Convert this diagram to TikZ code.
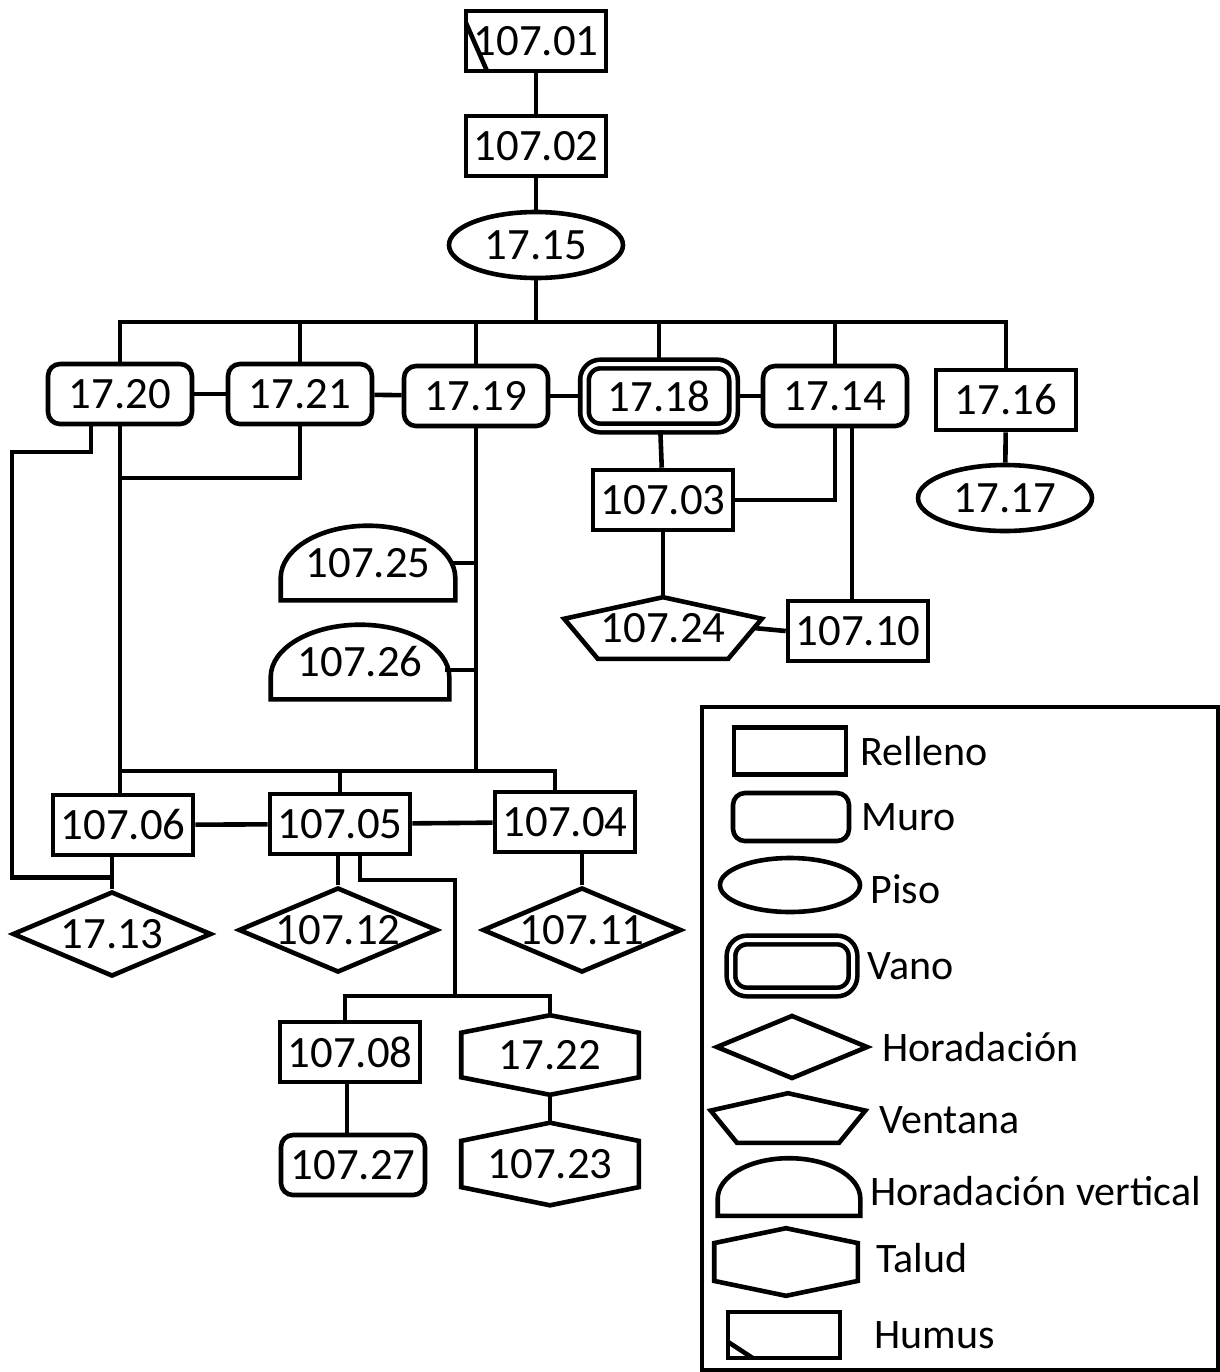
\documentclass[tikz,border=0pt]{standalone}
\usepackage{fontspec}
\setmainfont{Carlito}
\usetikzlibrary{positioning,calc,shapes.geometric}

\tikzset{
  outline/.style={line width=2.3pt, line join=miter},
  base/.style={inner sep=0pt, font=\fontsize{22.4}{24}\selectfont},
  relleno/.style={base, draw, minimum width=70pt, minimum height=30pt},
  muro/.style={base, draw, rounded corners=6pt, minimum width=72pt, minimum height=30pt},
  piso/.style={base, draw, ellipse, minimum width=87pt, minimum height=33pt},
  vano/.style={base, draw, double, double distance=2pt, rounded corners=8pt, minimum width=74.5pt, minimum height=32pt},
  horad/.style={base, draw, diamond, aspect=2.34, minimum width=99.5pt, minimum height=42.5pt},
  % shapes without a ready-made pgf shape: drawn on the node's box
  ventana/.style={base, minimum width=96.5pt, minimum height=28.5pt,
    append after command={\pgfextra{\edef\shnode{\tikzlastnode}
      \draw[outline] (\shnode.north)
        -- ($(\shnode.north east)!.35!(\shnode.south east)$)
        -- ($(\shnode.south east)!.17!(\shnode.south west)$)
        -- ($(\shnode.south west)!.17!(\shnode.south east)$)
        -- ($(\shnode.north west)!.35!(\shnode.south west)$) -- cycle;}}},
  hvert/.style={base, minimum width=85pt, minimum height=35pt,
    append after command={\pgfextra{\edef\shnode{\tikzlastnode}
      \draw[outline] (\shnode.south west)
        -- ($(\shnode.south west)!.3!(\shnode.north west)$)
        .. controls ($(\shnode.south west)!.686!(\shnode.north west)$)
           and ($(\shnode.north west)!.224!(\shnode.north east)$) .. (\shnode.north)
        .. controls ($(\shnode.north west)!.776!(\shnode.north east)$)
           and ($(\shnode.south east)!.686!(\shnode.north east)$)
        .. ($(\shnode.south east)!.3!(\shnode.north east)$)
        -- (\shnode.south east) -- cycle;}}},
  talud/.style={base, minimum width=86.5pt, minimum height=37.5pt,
    append after command={\pgfextra{\edef\shnode{\tikzlastnode}
      \draw[outline] (\shnode.north)
        -- ($(\shnode.north east)!.22!(\shnode.south east)$)
        -- ($(\shnode.north east)!.78!(\shnode.south east)$)
        -- (\shnode.south)
        -- ($(\shnode.south west)!.22!(\shnode.north west)$)
        -- ($(\shnode.south west)!.78!(\shnode.north west)$) -- cycle;}}},
  humus/.style 2 args={relleno,
    path picture={\draw[outline]
      ($(path picture bounding box.south west)!#1!(path picture bounding box.north west)$)
      -- ($(path picture bounding box.south west)!#2!(path picture bounding box.south east)$);}},
  lbl/.style={anchor=west, inner sep=0pt, font=\fontsize{21}{24}\selectfont}
}

\begin{document}
\begin{tikzpicture}[x=0.5pt, y=-0.5pt, line width=2.3pt]
  \fill[white] (0,0) rectangle (1220,1372);

  % top column
  \node[humus={.8}{.15}] (n10701) at (536,41) {107.01};
  \node[relleno] (n10702) at (536,146) {107.02};
  \node[piso] (n1715) at (536,245) {17.15};

  % row of walls
  \node[muro] (n1720) at (120,394) {17.20};
  \node[muro] (n1721) at (300,394) {17.21};
  \node[muro] (n1719) at (476,396) {17.19};
  \node[vano] (n1718) at (659,396) {17.18};
  \node[muro] (n1714) at (835,396) {17.14};
  \node[relleno] (n1716) at (1006,400) {17.16};
  \node[piso] (n1717) at (1005,498) {17.17};

  % right branch
  \node[relleno] (n10703) at (663,500) {107.03};
  \node[ventana] (n10724) at (663,628) {107.24};
  \node[relleno] (n10710) at (858,631) {107.10};

  % vertical borings
  \node[hvert] (n10725) at (368,563) {107.25};
  \node[hvert, minimum width=87pt] (n10726) at (360,662) {107.26};

  % lower rows
  \node[relleno] (n10706) at (123,825) {107.06};
  \node[relleno] (n10705) at (340,824) {107.05};
  \node[relleno] (n10704) at (565,822) {107.04};
  \node[horad] (n1713) at (112,934) {17.13};
  \node[horad] (n10712) at (338,930) {107.12};
  \node[horad] (n10711) at (582,930) {107.11};
  \node[relleno] (n10708) at (350,1052) {107.08};
  \node[talud] (n1722) at (550,1055) {17.22};
  \node[muro] (n10727) at (353,1165) {107.27};
  \node[talud, minimum height=39pt] (n10723) at (550,1164) {107.23};

  \coordinate (bus) at (536,322);
  \coordinate (lft) at (12,452);
  \coordinate (m1) at (120,478);
  \coordinate (j2) at (478,771);
  \coordinate (k3) at (455,880);
  \coordinate (j3) at (455,996);

  \draw (n10701) -- (n10702);
  \draw (n10702) -- (n1715);
  \draw (n1715) -- (bus);
  \draw (n1720.north) |- (bus) -| (n1716.north);
  \foreach \n in {n1721,n1719,n1718,n1714}
    \draw (\n.north) -- (\n.north |- bus);
  \draw (n1720) -- (n1721);
  \draw (n1721) -- (n1719);
  \draw (n1719) -- (n1718);
  \draw (n1718) -- (n1714);
  \draw (n1716) -- (n1717);

  \draw (n1718) -- (n10703);
  \draw (n1714.south) |- (n10703.east);
  \draw ([xshift=-3pt]n10710.north) -- ([xshift=-3pt]n10710.north |- n1714.south);
  \draw (n10703) -- (n10724);
  \draw ([xshift=-4pt]n10724.east) -- (n10710.west);

  \draw ([xshift=-14.5pt]n1720.south) |- (lft) |- ([yshift=6pt]n1713.north);
  \draw (n1720.south) -- (n1720.south |- n10706.north);
  \draw (n1721.south) |- (m1);
  \draw (n1719.south) -- (n1719.south |- j2);
  \draw ([xshift=-2pt]n10725.east) -- (n10725.east -| n1719.south);
  \draw ([xshift=-2pt, yshift=-4pt]n10726.east) -- ([yshift=-4pt]n10726.east -| n1719.south);
  \draw (n1720.south |- j2) -| ([xshift=-5pt]n10704.north);
  \draw (n10705.north) -- (n10705.north |- j2);

  \draw (n10706) -- (n10705);
  \draw (n10705) -- (n10704);
  \draw (n1713.north) -- (n1713.north |- n10706.south);
  \draw (n10712.north) -- (n10712.north |- n10705.south);
  \draw (n10711.north) -- (n10711.north |- n10704.south);

  \draw ([xshift=10pt]n10705.south) |- (k3) -- (j3);
  \draw ([xshift=-2.5pt]n10708.north) |- (j3) -| (n1722.north);
  \draw ([xshift=-1.5pt]n10708.south) -- ([xshift=-1.5pt]n10708.south |- n10727.north);
  \draw (n1722) -- (n10723);

  % legend
  \node[draw, line width=2pt, minimum width=258pt, minimum height=331.5pt] (legend) at (960,1038.5) {};
  \node[relleno, minimum width=56pt, minimum height=23.5pt] (sRelleno) at (790,751) {};
  \node[muro, minimum width=58pt, minimum height=24pt] (sMuro) at (791,817) {};
  \node[piso, minimum width=70pt, minimum height=27pt] (sPiso) at (790,885) {};
  \node[vano, minimum width=61pt, minimum height=26pt] (sVano) at (792,966) {};
  \node[horad, aspect=2.4, minimum width=76pt, minimum height=32pt] (sHorad) at (792,1047) {};
  \node[ventana, minimum width=75pt, minimum height=22.5pt] (sVentana) at (788,1118) {};
  \node[hvert, minimum width=69pt, minimum height=26.5pt] (sHvert) at (789,1187) {};
  \node[talud, minimum width=69.5pt, minimum height=31.5pt] (sTalud) at (786,1262) {};
  \node[humus={.35}{.22}, minimum width=56pt, minimum height=23pt] (sHumus) at (784,1335) {};

  \node[lbl, right=5pt of sRelleno] (lRelleno) {Relleno};
  \node[lbl, right=4pt of sMuro] (lMuro) {Muro};
  \node[lbl, right=3pt of sPiso, yshift=-2pt] (lPiso) {Piso};
  \node[lbl, right=5pt of sVano] (lVano) {Vano};
  \node[lbl, right=5pt of sHorad] (lHorad) {Horadación};
  \node[lbl, right=6pt of sVentana, yshift=-1pt] (lVentana) {Ventana};
  \node[lbl, right=4pt of sHvert, yshift=-2pt] (lHvert) {Horadación vertical};
  \node[lbl, right=8pt of sTalud, yshift=2pt] (lTalud) {Talud};
  \node[lbl, right=15pt of sHumus] (lHumus) {Humus};
\end{tikzpicture}
\end{document}
